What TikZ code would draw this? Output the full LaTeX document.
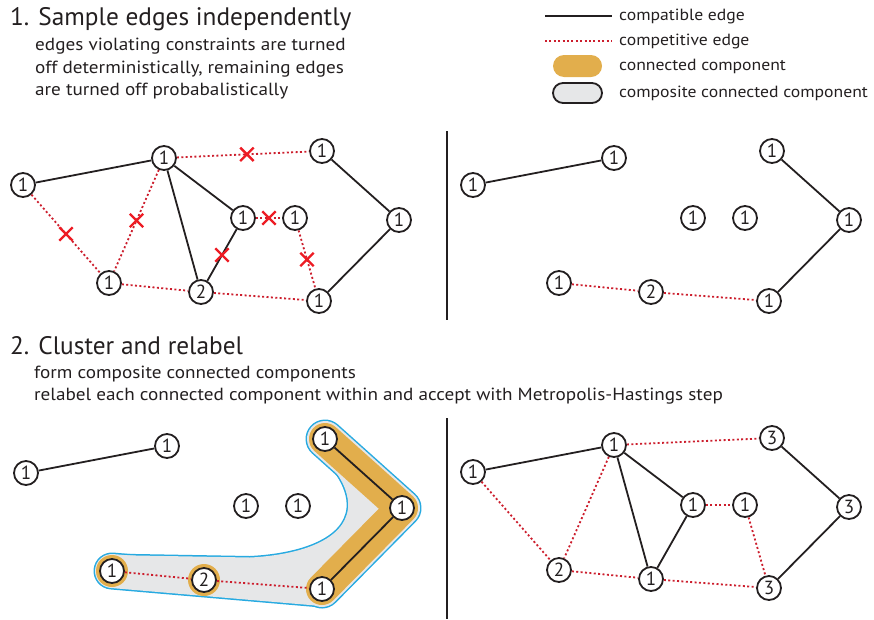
\documentclass[tikz,border=0pt]{standalone}
\usepackage{fontspec}
\setmainfont{PT Sans}
\newfontfamily\widesans{PT Sans}[FakeStretch=1.09]
\usetikzlibrary{shapes.misc,backgrounds}

\definecolor{ink}{RGB}{35,31,32}
\definecolor{edgered}{RGB}{204,30,45}
\definecolor{cutred}{RGB}{237,28,36}
\definecolor{ccorange}{RGB}{226,174,76}
\definecolor{hullgray}{RGB}{230,231,232}
\definecolor{hullblue}{RGB}{39,170,225}

\tikzset{
  vertex/.style={circle, draw=ink, fill=white, line width=1.8pt, minimum size=24pt, inner sep=0pt,
    text=ink, font=\fontsize{19}{19}\selectfont},
  compat/.style={draw=ink, line width=1.8pt},
  compet/.style={draw=edgered, line width=1.8pt, dash pattern=on 2pt off 2.4pt},
  cutmark/.style={cross out, solid, draw=cutred, line width=2.4pt, minimum size=11pt, inner sep=0pt},
  heading/.style={anchor=base west, inner sep=0pt, text=ink, font=\fontsize{25.3}{25.3}\selectfont},
  note/.style={anchor=base west, inner sep=0pt, text=ink, font=\widesans\fontsize{17.6}{17.6}\selectfont},
  legtext/.style={anchor=base west, inner sep=0pt, text=ink, font=\widesans\fontsize{16.2}{16.2}\selectfont},
  divider/.style={draw=ink, line width=2pt},
  band/.style={line cap=round, line join=round}
}

\begin{document}
\begin{tikzpicture}[x=1pt, y=-1pt]
  \useasboundingbox (0,0) rectangle (874,619);

  \node[heading] (t1) at (10,25) {1. Sample edges independently};
  \node[note] (t1a) at (35,50) {edges violating constraints are turned};
  \node[note] (t1b) at (35,73) {off deterministically, remaining edges};
  \node[note] (t1c) at (35,95) {are turned off probabalistically};
  \node[heading] (t2) at (10,354) {2. Cluster and relabel};
  \node[note] (t2a) at (34,378) {form composite connected components};
  \node[note] (t2b) at (34,400) {relabel each connected component within and accept with Metropolis-Hastings step};

  \coordinate (lg1s) at (545,16);
  \coordinate (lg1e) at (612,16);
  \coordinate (lg2s) at (545,41);
  \coordinate (lg2e) at (612,41);
  \draw[compat] (lg1s) -- (lg1e);
  \draw[compet] (lg2s) -- (lg2e);
  \node[fill=ccorange, rounded corners=11pt, minimum width=49pt, minimum height=22pt] (lgcc) at (577.5,66) {};
  \node[draw=ink, fill=hullgray, line width=1.8pt, rounded corners=10pt, minimum width=49pt, minimum height=20pt] (lgccc) at (577.5,93) {};
  \node[legtext] (lt1) at (619,20) {compatible edge};
  \node[legtext] (lt2) at (619,45) {competitive edge};
  \node[legtext] (lt3) at (619,70) {connected component};
  \node[legtext] (lt4) at (619,97) {composite connected component};

  \draw[divider] (447,131) -- (447,320);
  \draw[divider] (447,418) -- (447,619);

  \foreach \n/\x/\y/\l/\m in {a/23/185/1/1, b/164/158/1/1, c/322/151/1/3, d/243/218/1/1, e/295/218/1/1,
      f/399/220/1/3, g/109/283/1/2, h/201/292/2/1, i/319/301/1/3} {
    \node[vertex] (p1\n) at (\x,\y) {\l};
    \node[vertex] (p2\n) at (\x+450,\y) {\l};
    \node[vertex] (p3\n) at (\x+3,\y+288) {\l};
    \node[vertex] (p4\n) at (\x+450,\y+287) {\m};
  }

  \draw[compat] (p1a) -- (p1b);
  \draw[compat] (p1b) -- (p1h);
  \draw[compat] (p1b) -- (p1d);
  \draw[compat] (p1d) -- node[cutmark] (x4) {} (p1h);
  \draw[compat] (p1c) -- (p1f);
  \draw[compat] (p1f) -- (p1i);
  \draw[compet] (p1b) -- node[cutmark, pos=0.53] (x1) {} (p1c);
  \draw[compet] (p1a) -- node[cutmark] (x2) {} (p1g);
  \draw[compet] (p1b) -- node[cutmark] (x3) {} (p1g);
  \draw[compet] (p1g) -- (p1h);
  \draw[compet] (p1h) -- (p1i);
  \draw[compet] (p1d) -- node[cutmark] (x5) {} (p1e);
  \draw[compet] (p1e) -- node[cutmark] (x6) {} (p1i);

  \foreach \u/\v in {a/b, c/f, f/i} {
    \draw[compat] (p2\u) -- (p2\v);
    \draw[compat] (p3\u) -- (p3\v);
  }
  \foreach \u/\v in {g/h, h/i} {
    \draw[compet] (p2\u) -- (p2\v);
    \draw[compet] (p3\u) -- (p3\v);
  }

  \foreach \u/\v in {a/b, b/h, b/d, d/h, c/f, f/i}
    \draw[compat] (p4\u) -- (p4\v);
  \foreach \u/\v in {b/c, a/g, b/g, g/h, h/i, d/e, e/i}
    \draw[compet] (p4\u) -- (p4\v);

  \begin{pgfonlayer}{background}
    \draw[hullblue, band, line width=39pt] (p3c.center) -- (p3f.center) -- (p3i.center);
    \draw[hullblue, band, line width=37pt] (p3g.center) -- (p3i.center);
    \draw[hullblue, line width=3pt, fill=hullblue] (125,566) -- (125,555.3) -- (250,557.5)
      .. controls (300,555) and (345,540) .. (348,508) .. controls (350,485) and (330,462) .. (314,449)
      -- (p3f.center) -- (p3i.center) -- cycle;
    \draw[hullgray, band, line width=36pt] (p3c.center) -- (p3f.center) -- (p3i.center);
    \draw[hullgray, band, line width=34pt] (p3g.center) -- (p3i.center);
    \fill[hullgray] (125,566) -- (125,555.3) -- (250,557.5)
      .. controls (300,555) and (345,540) .. (348,508) .. controls (350,485) and (330,462) .. (314,449)
      -- (p3f.center) -- (p3i.center) -- cycle;
    \draw[ccorange, band, line width=32pt] (p3c.center) -- (p3f.center) -- (p3i.center);
    \fill[ccorange] (p3g.center) circle (16pt);
    \fill[ccorange] (p3h.center) circle (16pt);
  \end{pgfonlayer}
\end{tikzpicture}
\end{document}
